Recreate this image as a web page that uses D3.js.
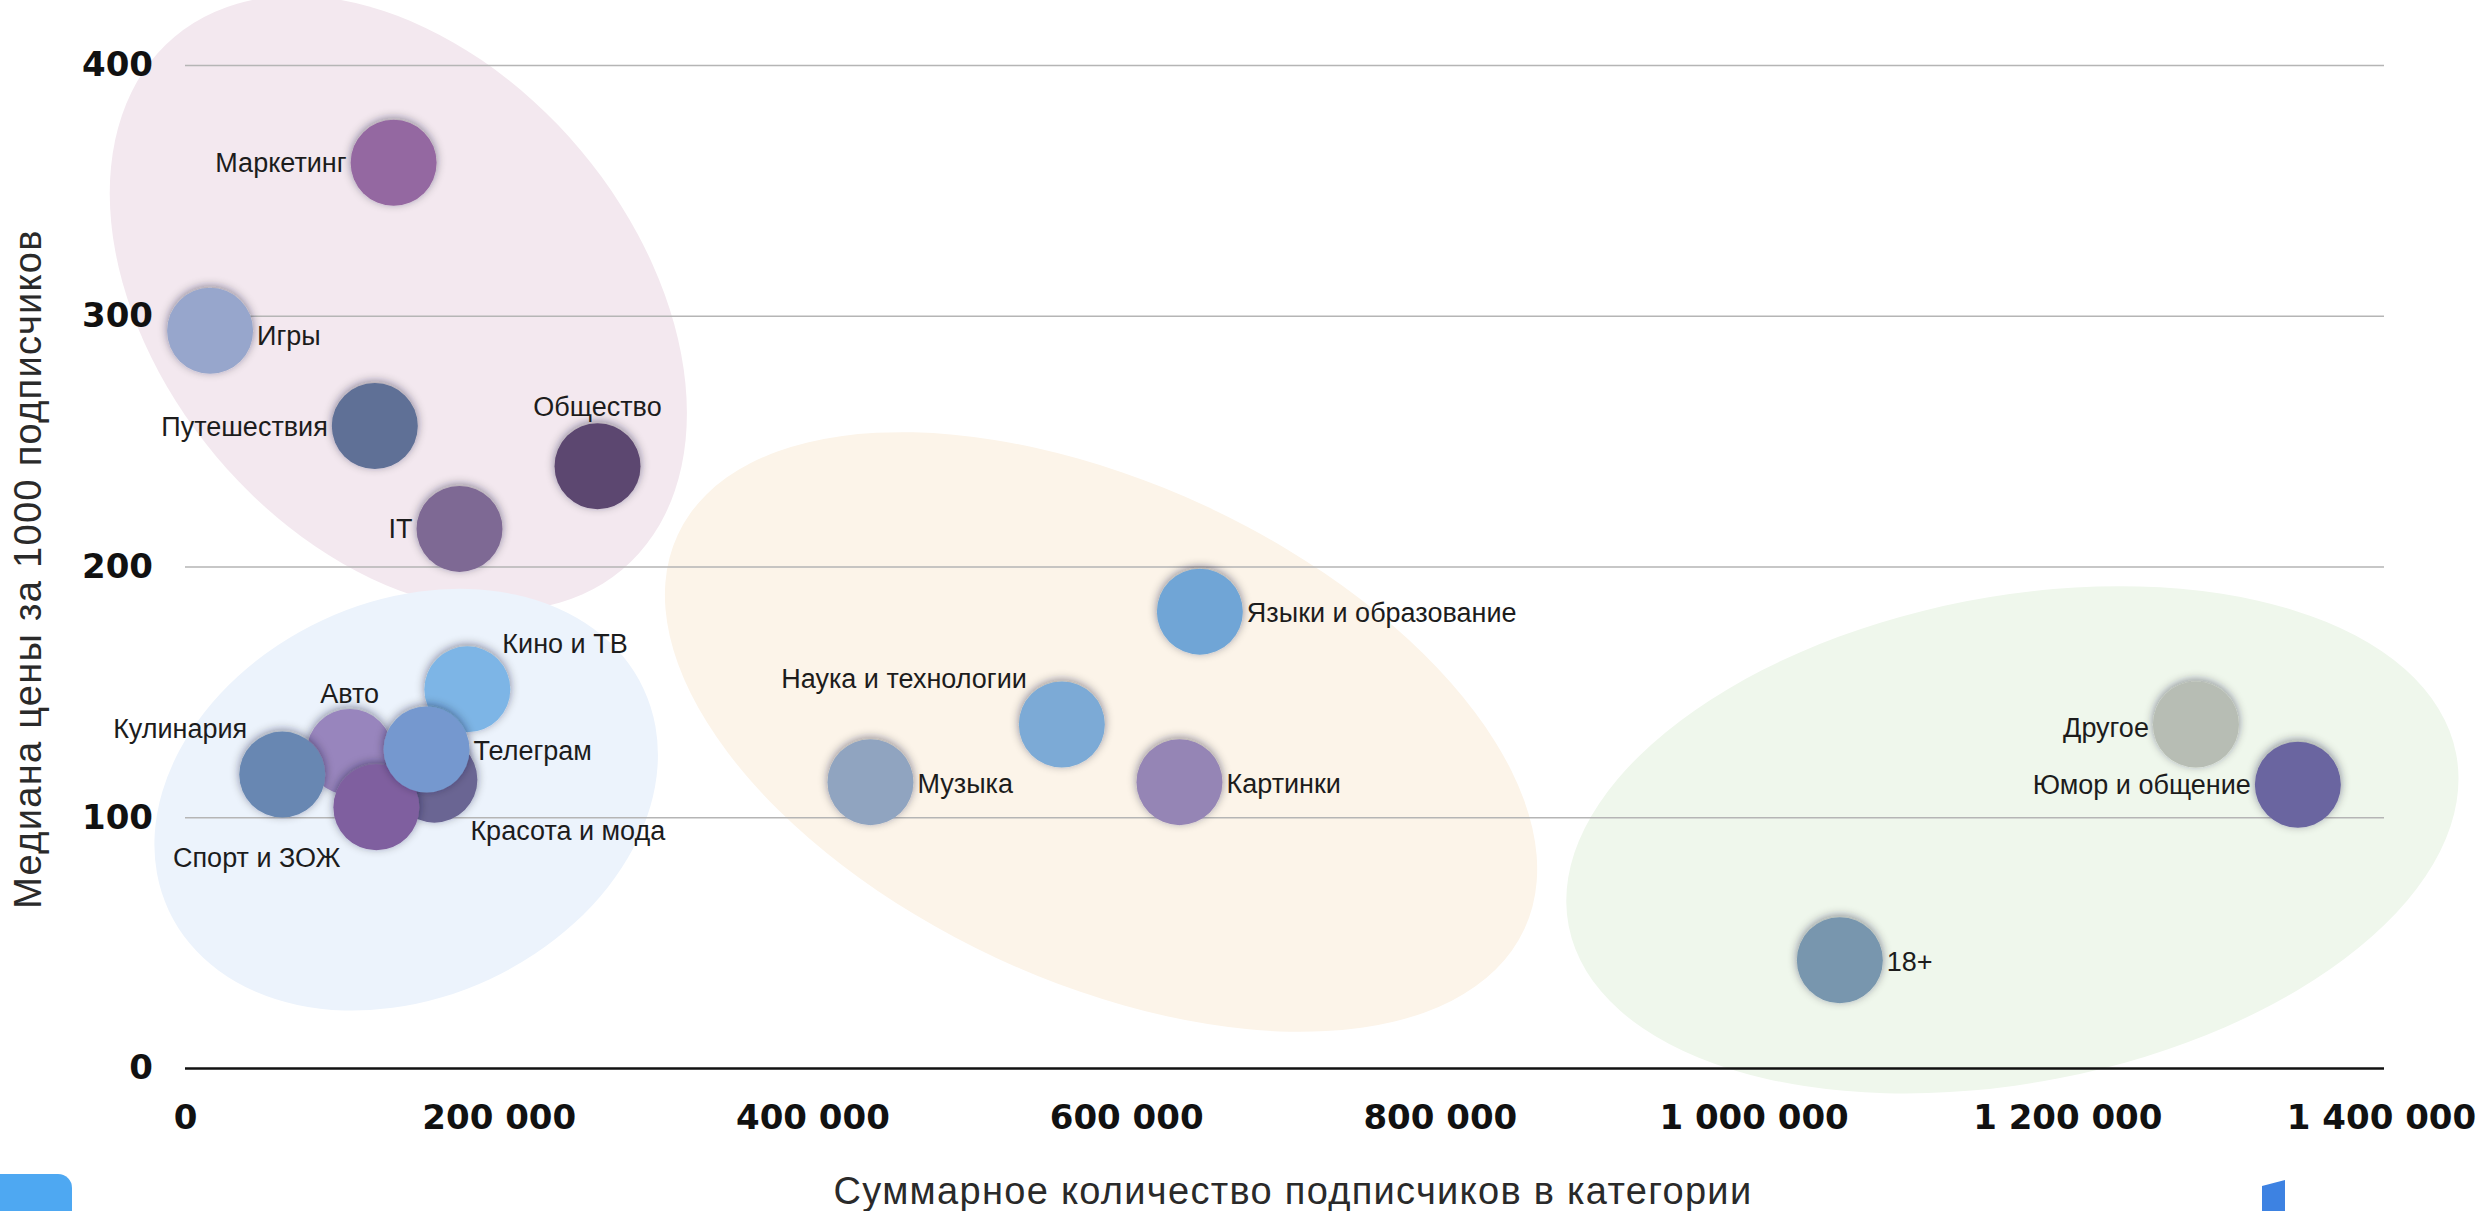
<!DOCTYPE html>
<html>
<head>
<meta charset="utf-8">
<script src="https://cdn.jsdelivr.net/npm/d3@7"></script>
<style>
  body { margin: 0; background: #fff; }
  svg { display: block; }
</style>
</head>
<body>
<div class="chart"></div>
<script>
// bubbles, listed in drawing order (later ones sit on top)
const categories = [
  "Маркетинг", "Игры", "Путешествия", "Общество", "IT",
  "Кино и ТВ", "Авто", "Красота и мода", "Кулинария", "Спорт и ЗОЖ", "Телеграм",
  "Музыка", "Наука и технологии", "Языки и образование", "Картинки",
  "18+", "Другое", "Юмор и общение"
];
const subscribers = [
  133000, 16000, 121000, 263000, 175000,
  180000, 105000, 159000, 62000, 122000, 154000,
  437000, 559000, 647000, 634000,
  1055000, 1282000, 1347000
];
const medianPrice = [
  361, 294, 256, 240, 215,
  151, 126, 115, 117, 104, 127,
  114, 137, 182, 114,
  43, 137, 113
];
const bubbleColors = [
  "#9467a1", "#97a6cc", "#5f6f96", "#5b4670", "#7e6994",
  "#7db5e6", "#9885bd", "#6a6593", "#6887b2", "#7f5f9f", "#7498cf",
  "#90a4c0", "#7baad6", "#6fa5d6", "#9585b5",
  "#7896ae", "#b7bdb4", "#6a65a0"
];

const xTicks = [0, 200000, 400000, 600000, 800000, 1000000, 1200000, 1400000];
const yTicks = [0, 100, 200, 300, 400];

// soft cluster ovals behind the bubbles, centred in data units
const clusterNames = ["pink", "blue", "peach", "green"];
const clusterX = [136000, 141000, 584000, 1165000];
const clusterY = [305, 107, 134, 91];

const xTitle = "Суммарное количество подписчиков в категории";
const yTitle = "Медиана цены за 1000 подписчиков";

// layout / style
const clusterShape = {
  pink:  {rx: 348, ry: 238, rot: 50,  fill: "#f3e8ef"},
  blue:  {rx: 262, ry: 198, rot: -25, fill: "#ecf3fc"},
  peach: {rx: 467, ry: 249, rot: 25,  fill: "#fcf4e9"},
  green: {rx: 452, ry: 243, rot: -11, fill: "#eff7ec"}
};

const labelPlace = {
  "Маркетинг": ["end", -47, 0],
  "Игры": ["start", 47, 5],
  "Путешествия": ["end", -47, 0],
  "Общество": ["middle", 0, -60],
  "IT": ["end", -47, 0],
  "Кино и ТВ": ["start", 35, -46],
  "Авто": ["middle", 0, -59],
  "Красота и мода": ["start", 36, 51],
  "Кулинария": ["end", -35, -46],
  "Спорт и ЗОЖ": ["end", -36, 50],
  "Телеграм": ["start", 47, 1],
  "Музыка": ["start", 47, 1],
  "Наука и технологии": ["end", -35, -46],
  "Языки и образование": ["start", 47, 1],
  "Картинки": ["start", 47, 1],
  "18+": ["start", 47, 1],
  "Другое": ["end", -47, 3],
  "Юмор и общение": ["end", -47, 0]
};

const width = 2484;
const height = 1211;
const margin = {top: 65, left: 185, right: 103, bottom: 143};
const bubbleRadius = 43;

const svg = d3.select("div.chart").append("svg")
  .attr("width", width)
  .attr("height", height);

svg.append("rect").attr("width", width).attr("height", height).attr("fill", "#fff");

const defs = svg.append("defs");
defs.append("filter")
  .attr("id", "shadow")
  .attr("x", "-60%").attr("y", "-60%")
  .attr("width", "220%").attr("height", "220%")
  .append("feDropShadow")
  .attr("dx", 0).attr("dy", -2)
  .attr("stdDeviation", 5)
  .attr("flood-color", "#1a1a2a")
  .attr("flood-opacity", 0.45);

const xScale = d3.scaleLinear()
  .domain([0, 1400000])
  .range([margin.left, width - margin.right]);
const yScale = d3.scaleLinear()
  .domain([0, 400])
  .range([height - margin.bottom, margin.top]);

const ru = d3.formatLocale({decimal: ",", thousands: " ", grouping: [3], currency: ["", ""]});
const fmt = ru.format(",");

// cluster ovals
svg.append("g").attr("class", "clusters")
  .selectAll("ellipse")
  .data(clusterNames)
  .enter()
  .append("ellipse")
  .attr("transform", (d, i) => `translate(${xScale(clusterX[i])}, ${yScale(clusterY[i])}) rotate(${clusterShape[d].rot})`)
  .attr("rx", (d) => clusterShape[d].rx)
  .attr("ry", (d) => clusterShape[d].ry)
  .attr("fill", (d) => clusterShape[d].fill);

// y axis with grid lines
const gridWidth = 2199;
const yAxis = d3.axisLeft(yScale)
  .tickValues(yTicks)
  .tickSize(-gridWidth)
  .tickPadding(32)
  .tickFormat(fmt);
const yAxisGroup = svg.append("g").attr("class", "yaxis")
  .attr("transform", `translate(${margin.left}, 0)`)
  .call(yAxis);
yAxisGroup.select(".domain").remove();
yAxisGroup.selectAll(".tick line")
  .attr("stroke", (d) => d === 0 ? "#111" : "#b5b5b5")
  .attr("stroke-width", (d) => d === 0 ? 2.5 : 1.5);
yAxisGroup.selectAll(".tick text")
  .attr("font-family", "'DejaVu Sans', sans-serif")
  .attr("font-weight", "bold")
  .attr("font-size", 34)
  .attr("fill", "#111");

// x axis labels only
const xAxis = d3.axisBottom(xScale)
  .tickValues(xTicks)
  .tickSize(0)
  .tickPadding(37)
  .tickFormat(fmt);
const xAxisGroup = svg.append("g").attr("class", "xaxis")
  .attr("transform", `translate(0, ${yScale(0)})`)
  .call(xAxis);
xAxisGroup.select(".domain").remove();
xAxisGroup.selectAll(".tick text")
  .attr("font-family", "'DejaVu Sans', sans-serif")
  .attr("font-weight", "bold")
  .attr("font-size", 34)
  .attr("fill", "#111");

// bubbles
const chart = svg.append("g").attr("class", "chart");
chart.selectAll("circle")
  .data(categories)
  .enter()
  .append("circle")
  .attr("cx", (d, i) => xScale(subscribers[i]))
  .attr("cy", (d, i) => yScale(medianPrice[i]))
  .attr("r", bubbleRadius)
  .attr("fill", (d, i) => bubbleColors[i])
  .attr("filter", "url(#shadow)");

chart.selectAll("text.label")
  .data(categories)
  .enter()
  .append("text")
  .attr("class", "label")
  .attr("x", (d, i) => xScale(subscribers[i]) + labelPlace[d][1])
  .attr("y", (d, i) => yScale(medianPrice[i]) + labelPlace[d][2])
  .attr("dy", "0.35em")
  .attr("text-anchor", (d) => labelPlace[d][0])
  .attr("font-family", "'Liberation Sans', Arial, sans-serif")
  .attr("font-size", 27)
  .attr("fill", "#1c1c1c")
  .text((d) => d);

// axis titles
svg.append("text")
  .attr("x", 1293)
  .attr("y", 1191)
  .attr("dy", "0.35em")
  .attr("text-anchor", "middle")
  .attr("font-family", "'Liberation Sans', Arial, sans-serif")
  .attr("font-size", 38)
  .attr("letter-spacing", 1.3)
  .attr("fill", "#2a2a2a")
  .text(xTitle);

svg.append("text")
  .attr("transform", "translate(28, 569) rotate(-90)")
  .attr("dy", "0.35em")
  .attr("text-anchor", "middle")
  .attr("font-family", "'Liberation Sans', Arial, sans-serif")
  .attr("font-size", 38)
  .attr("letter-spacing", 1.3)
  .attr("fill", "#2a2a2a")
  .text(yTitle);

// cut-off logo marks at the bottom corners
svg.append("rect")
  .attr("x", -14).attr("y", 1174)
  .attr("width", 86).attr("height", 70)
  .attr("rx", 14)
  .attr("fill", "#4ea8f2");
svg.append("path")
  .attr("d", "M2262,1186 L2285,1180 L2285,1211 L2262,1211 Z")
  .attr("fill", "#3d82e2");
</script>
</body>
</html>
